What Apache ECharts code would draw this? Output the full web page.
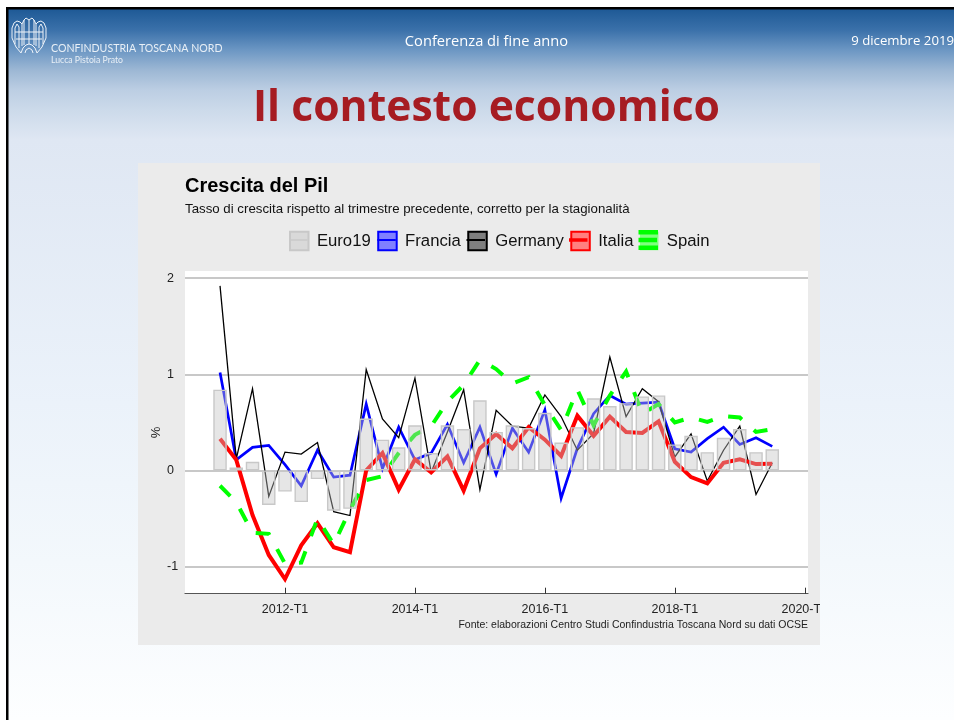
<!DOCTYPE html>
<html><head><meta charset="utf-8">
<style>html,body{margin:0;padding:0;background:#fff}#c{width:954px;height:720px}</style>
<script src="https://cdn.jsdelivr.net/npm/echarts@6/dist/echarts.min.js"></script>
</head><body><div id="c"></div>
<script>
const quarters = ['2011-T1','2011-T2','2011-T3','2011-T4','2012-T1','2012-T2','2012-T3','2012-T4','2013-T1','2013-T2','2013-T3','2013-T4','2014-T1','2014-T2','2014-T3','2014-T4','2015-T1','2015-T2','2015-T3','2015-T4','2016-T1','2016-T2','2016-T3','2016-T4','2017-T1','2017-T2','2017-T3','2017-T4','2018-T1','2018-T2','2018-T3','2018-T4','2019-T1','2019-T2','2019-T3'];
const tickPositions = [4,12,20,28,36];
const tickLabels = ['2012-T1','2014-T1','2016-T1','2018-T1','2020-T1'];
const euro19 = [.84,.03,.09,-.36,-.22,-.33,-.09,-.42,-.40,.54,.32,.24,.47,.18,.47,.43,.73,.40,.47,.44,.60,.29,.45,.75,.67,.70,.77,.78,.27,.36,.19,.34,.43,.19,.22];
const francia = [1.02,.11,.24,.26,.06,-.16,.21,-.07,-.05,.69,.02,.45,.11,.18,.48,.08,.45,-.04,.44,.19,.63,-.29,.23,.59,.78,.69,.70,.71,.225,.19,.33,.45,.27,.34,.25];
const germany = [1.92,.12,.85,-.27,.19,.17,.29,-.43,-.47,1.05,.535,.34,.96,-.02,.40,.84,-.20,.625,.46,.44,.785,.56,.21,.385,1.18,.56,.85,.715,.14,.38,-.11,.21,.46,-.25,.08];
const italia = [.33,.11,-.465,-.88,-1.13,-.78,-.55,-.80,-.85,0,.18,-.20,.115,-.02,.145,-.21,.23,.38,.23,.45,.32,.15,.57,.36,.56,.40,.39,.51,.09,-.07,-.135,.08,.115,.066,.07];
const spain = [-.16,-.33,-.65,-.66,-.97,-.96,-.50,-.77,-.41,-.10,-.06,.18,.37,.46,.715,.89,1.15,1.055,.905,.97,.68,.42,.84,.47,.78,1.03,.59,.69,.50,.55,.505,.565,.55,.40,.43];
const pts = a => a.map((v,i)=>[i,v]);
const hdr = '"Open Sans","Noto Sans",sans-serif', ar = '"Liberation Sans",Arial,sans-serif';
const L = (name,fill,border) => ({name,icon:'rect',itemStyle:{color:fill,borderColor:border,borderWidth:border==='none'?0:2}});
const keyLine = (x,c,h) => ({type:'rect',z:50,shape:{x:x,y:240-h/2,width:18.5,height:h},style:{fill:c}});
const logoLine = p => ({type:'polyline',z:20,shape:{points:p.map(q=>[11+q[0],18+q[1]])},style:{fill:'none',stroke:'#eef3f9',lineWidth:1}});
const logoPaths = [
 [[10,35],[5,29],[1,20],[1,10],[3,5],[6,3],[9,4],[11,6],[13,2],[15,0],[18,2],[21,0],[23,2],[25,6],[27,4],[30,3],[33,5],[35,10],[35,20],[31,29],[26,35]],
 [[4,26],[4,10],[6,6],[8,9],[8,30]],[[32,26],[32,10],[30,6],[28,9],[28,30]],
 [[13,2],[13,27]],[[18,2],[18,26]],[[23,2],[23,27]],[[11,6],[11,28]],[[25,6],[25,28]],
 [[4,14],[32,14]],[[5,21],[31,21]],
 [[10,35],[12,30],[15,27],[18,26],[21,27],[24,30],[26,35]],[[14,35],[15,32],[18,30],[21,32],[22,35]]
];
const legendKeys = [
 {name:'Euro19',fill:'#d9d9d9',border:'#c8c8c8',x:289,mid:1.5},
 {name:'Francia',fill:'#8080ff',border:'#0000ff',x:377.3,mid:2},
 {name:'Germany',fill:'#7f7f7f',border:'#000',x:466.5,mid:2},
 {name:'Italia',fill:'#ff8080',border:'#ff0000',x:569,mid:3.5},
 {name:'Spain',fill:'#80ff80',border:'none',x:638.5,mid:4.5}
];
const chart = echarts.init(document.getElementById('c'),null,{renderer:'canvas'});
chart.setOption({
 animation:false,
 backgroundColor:{type:'linear',x:0,y:0,x2:0,y2:1,colorStops:[
  {offset:0,color:'#114f8d'},{offset:.042,color:'#3b71aa'},{offset:.069,color:'#6b96c3'},{offset:.097,color:'#9cb7d4'},{offset:.125,color:'#bccee3'},{offset:.153,color:'#ccdaea'},{offset:.194,color:'#dfe7f3'},{offset:.56,color:'#ebf2fa'},{offset:.78,color:'#f3f8fc'},{offset:1,color:'#fdfeff'}]},
 title:[
  {text:'Crescita del Pil',left:185,top:176,padding:0,textStyle:{fontFamily:ar,fontSize:20,fontWeight:'bold',color:'#000'}},
  {text:'Tasso di crescita rispetto al trimestre precedente, corretto per la stagionalità',left:185,top:202.5,padding:0,textStyle:{fontFamily:ar,fontSize:13.27,fontWeight:'normal',color:'#111'}}
 ],
 legend:{left:289,top:230.75,padding:0,itemWidth:18.5,itemHeight:18.5,itemGap:6.5,selectedMode:false,
  textStyle:{fontFamily:ar,fontSize:16.7,color:'#111',padding:[0,0,0,3.4]},
  data:legendKeys.map(k=>L(k.name,k.fill,k.border))},
 grid:{left:185,right:146,top:271,height:322.7,show:true,backgroundColor:'#fff',borderWidth:0},
 xAxis:{type:'value',min:-2.157,max:36.2,splitLine:{show:false},
  axisLine:{show:true,onZero:false,lineStyle:{color:'#555',width:1.2}},
  axisTick:{show:true,inside:true,length:6,customValues:tickPositions,lineStyle:{color:'#333',width:1}},
  axisLabel:{customValues:tickPositions,margin:9,showMinLabel:true,showMaxLabel:true,hideOverlap:false,fontFamily:ar,fontSize:12.5,color:'#222',formatter:v=>tickLabels[tickPositions.indexOf(v)]||''}},
 yAxis:{type:'value',min:-1.283,max:2.075,name:'%',nameLocation:'middle',nameRotate:90,nameGap:22,nameMoveOverlap:false,nameTextStyle:{fontFamily:ar,fontSize:13,color:'#222'},
  axisLine:{show:false},axisTick:{show:false,customValues:[-1,0,1,2]},
  axisLabel:{customValues:[-1,0,1,2],align:'left',margin:18,fontFamily:ar,fontSize:12.5,color:'#222',formatter:v=>String(v)},
  splitLine:{show:true,lineStyle:{color:'#c8c8c8',width:2}}},
 series:[
  {name:'Euro19',type:'bar',z:5,data:pts(euro19),barWidth:13.5,itemStyle:{color:'rgba(195,195,195,.41)',borderColor:'#c8c8c8',borderWidth:1.4}},
  {name:'Francia',type:'line',z:2,data:pts(francia),symbol:'none',lineStyle:{color:'#0000ff',width:2.7,join:'miter'}},
  {name:'Germany',type:'line',z:2,data:pts(germany),symbol:'none',lineStyle:{color:'#000',width:1.3,join:'miter'}},
  {name:'Italia',type:'line',z:3,data:pts(italia),symbol:'none',lineStyle:{color:'#ff0000',width:4,join:'miter'}},
  {name:'Spain',type:'line',z:4,data:pts(spain),symbol:'none',lineStyle:{color:'#00ff00',width:4,type:[14.5,16],join:'miter'}}
 ],
 graphic:[
  {type:'rect',z:60,shape:{x:0,y:0,width:954,height:7},style:{fill:'#fff'}},
  {type:'rect',z:60,shape:{x:0,y:0,width:6,height:720},style:{fill:'#fff'}},
  {type:'rect',z:61,shape:{x:6,y:7,width:948,height:2.5},style:{fill:'#000'}},
  {type:'rect',z:61,shape:{x:6,y:7,width:2.5,height:713},style:{fill:'#000'}},
  {type:'rect',z:-10,shape:{x:138,y:163,width:682,height:482},style:{fill:'#ebebeb'}},
  {type:'rect',z:60,shape:{x:820,y:600,width:9,height:16},style:{fill:'#f6fafd'}},
  ...logoPaths.map(logoLine),
  {type:'text',z:20,style:{x:51,y:43,text:'CONFINDUSTRIA TOSCANA NORD',fill:'#e8eff6',font:'10.6px Lato,sans-serif'}},
  {type:'text',z:20,style:{x:51,y:56,text:'Lucca Pistoia Prato',fill:'#e8eff6',font:'8.7px Lato,sans-serif'}},
  {type:'text',z:20,style:{x:486.5,y:34,text:'Conferenza di fine anno',fill:'#fff',align:'center',font:'14.66px '+hdr}},
  {type:'text',z:20,style:{x:954,y:34.5,text:'9 dicembre 2019',fill:'#fff',align:'right',font:'13.2px '+hdr}},
  {type:'text',z:20,style:{x:486.5,y:87,text:'Il contesto economico',fill:'#a61c22',align:'center',font:'bold 42.7px '+hdr}},
  {type:'text',z:20,style:{x:808,y:619.5,text:'Fonte: elaborazioni Centro Studi Confindustria Toscana Nord su dati OCSE',fill:'#222',align:'right',font:'10.5px '+ar}},
  ...legendKeys.map(k=>keyLine(k.x,k.border==='none'?'#00ff00':k.border,k.mid)),
  {type:'rect',z:50,shape:{x:638.5,y:230,width:19.5,height:4.5},style:{fill:'#00ff00'}},
  {type:'rect',z:50,shape:{x:638.5,y:245.5,width:19.5,height:4.5},style:{fill:'#00ff00'}}
 ]
});
</script></body></html>
